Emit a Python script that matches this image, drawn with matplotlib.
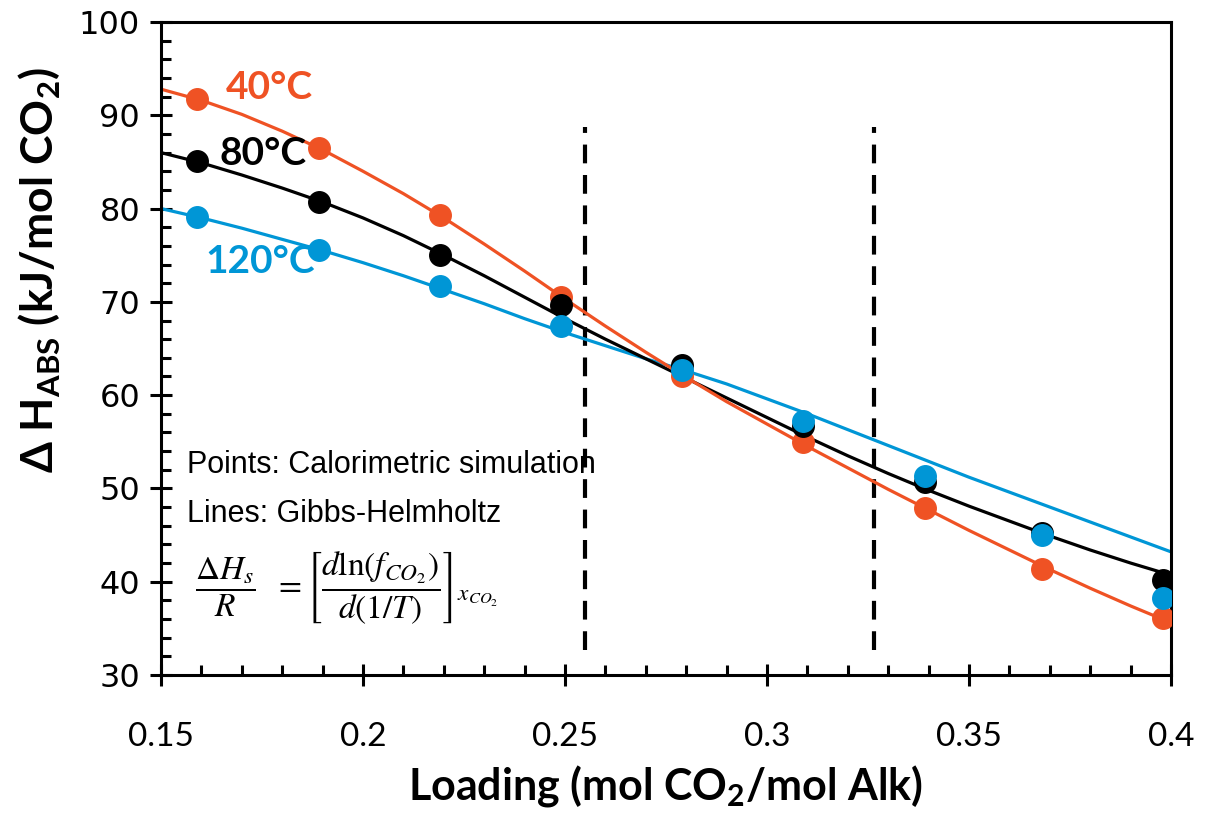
import matplotlib
matplotlib.use("Agg")
import matplotlib.pyplot as plt
from matplotlib.ticker import MultipleLocator

plt.rcParams['font.family'] = ['Lato', 'DejaVu Sans']
plt.rcParams['mathtext.fontset'] = 'custom'
plt.rcParams['mathtext.rm'] = 'Lato:bold'
plt.rcParams['mathtext.bf'] = 'Lato:bold'

# simulated points (calorimetric)
loading_pts = [0.159, 0.189, 0.219, 0.249, 0.279, 0.309, 0.339, 0.368, 0.398]
dh_40 = [91.7, 86.5, 79.3, 70.5, 62.0, 55.0, 47.9, 41.4, 36.1]
dh_80 = [85.1, 80.7, 75.0, 69.7, 63.2, 56.7, 50.7, 45.2, 40.2]
dh_120 = [79.1, 75.6, 71.7, 67.4, 62.7, 57.2, 51.3, 45.0, 38.2]

# Gibbs-Helmholtz lines
loading_line = [0.15, 0.16, 0.17, 0.18, 0.19, 0.20, 0.21, 0.22, 0.23, 0.24, 0.25, 0.26, 0.27,
                0.28, 0.29, 0.30, 0.31, 0.32, 0.33, 0.34, 0.35, 0.36, 0.37, 0.38, 0.39, 0.40]
gh_40 = [92.8, 91.6, 90.1, 88.3, 86.3, 84.0, 81.6, 79.0, 76.2, 73.3, 70.3, 67.4, 64.6,
         61.9, 59.3, 56.9, 54.5, 52.2, 49.9, 47.7, 45.5, 43.4, 41.3, 39.3, 37.4, 35.6]
gh_80 = [86.0, 84.9, 83.6, 82.2, 80.7, 79.0, 77.1, 75.0, 72.8, 70.5, 68.2, 66.0, 63.9,
         61.8, 59.7, 57.6, 55.5, 53.5, 51.6, 49.8, 48.1, 46.5, 44.9, 43.4, 42.0, 40.7]
gh_120 = [80.0, 79.0, 77.9, 76.7, 75.5, 74.2, 72.8, 71.3, 69.8, 68.2, 66.7, 65.3, 63.9,
          62.6, 61.2, 59.6, 58.0, 56.3, 54.6, 52.9, 51.2, 49.6, 48.0, 46.4, 44.8, 43.2]

dashed_x = [0.255, 0.3265]
dashed_y = [32.7, 88.7]

red = '#EF5224'
blue = '#0096D6'
black = '#000000'

fig = plt.figure(figsize=(12.15, 8.15), dpi=100)
ax = fig.add_axes([0.1325, 0.1718, 0.8313, 0.8012])

for y_line, c in [(gh_120, blue), (gh_80, black), (gh_40, red)]:
    ax.plot(loading_line, y_line, color=c, lw=2.3, zorder=2)
for y_pts, c in [(dh_40, red), (dh_80, black), (dh_120, blue)]:
    ax.plot(loading_pts, y_pts, 'o', color=c, ms=15.5, zorder=3)

for xd in dashed_x:
    ax.plot([xd, xd], dashed_y, color='black', lw=3, ls=(0, (4.5, 2.8)), zorder=1)

ax.set_xlim(0.15, 0.4)
ax.set_ylim(30, 100)
ax.xaxis.set_minor_locator(MultipleLocator(0.01))
ax.yaxis.set_major_locator(MultipleLocator(10))
ax.yaxis.set_minor_locator(MultipleLocator(2))
ax.set_xticks([0.15, 0.2, 0.25, 0.3, 0.35, 0.4])
ax.set_xticklabels(['0.15', '0.2', '0.25', '0.3', '0.35', '0.4'])

ax.tick_params(which='major', direction='inout', length=16, width=2.2)
ax.tick_params(which='minor', direction='in', length=7, width=2.2)
ax.tick_params(axis='x', which='major', pad=26, labelsize=24)
ax.tick_params(axis='y', which='major', pad=7)
for lab in ax.get_yticklabels():
    lab.set_fontfamily('DejaVu Sans')
    lab.set_fontsize(23)
for s in ax.spines.values():
    s.set_linewidth(2.2)

ax.set_xlabel('Loading (mol CO$_2$/mol Alk)', fontsize=31, fontweight='bold', labelpad=8)
ax.set_ylabel('Δ H$_\\mathrm{ABS}$ (kJ/mol CO$_2$)', fontsize=32, fontweight='bold')
ax.yaxis.set_label_coords(-0.097, 0.62)

ax.text(0.166, 93.0, '40°C', color=red, fontsize=28, fontweight='bold', va='center')
ax.text(0.1645, 85.9, '80°C', color=black, fontsize=28, fontweight='bold', va='center')
ax.text(0.161, 74.3, '120°C', color=blue, fontsize=28, fontweight='bold', va='center')

ax.text(0.1565, 52.5, 'Points: Calorimetric simulation', fontsize=22,
        family='Liberation Sans', va='center')
ax.text(0.1565, 47.3, 'Lines: Gibbs-Helmholtz', fontsize=22,
        family='Liberation Sans', va='center')
ax.text(0.1585, 39.4,
        r'$\dfrac{\Delta H_s}{R}\ \ = \left[\dfrac{d\mathrm{ln}\left(f_{CO_2}\right)}{d(1/T)}\right]_{x_{CO_2}}$',
        fontsize=24, math_fontfamily='stix', va='center')

fig.savefig('out.png', dpi=100)
